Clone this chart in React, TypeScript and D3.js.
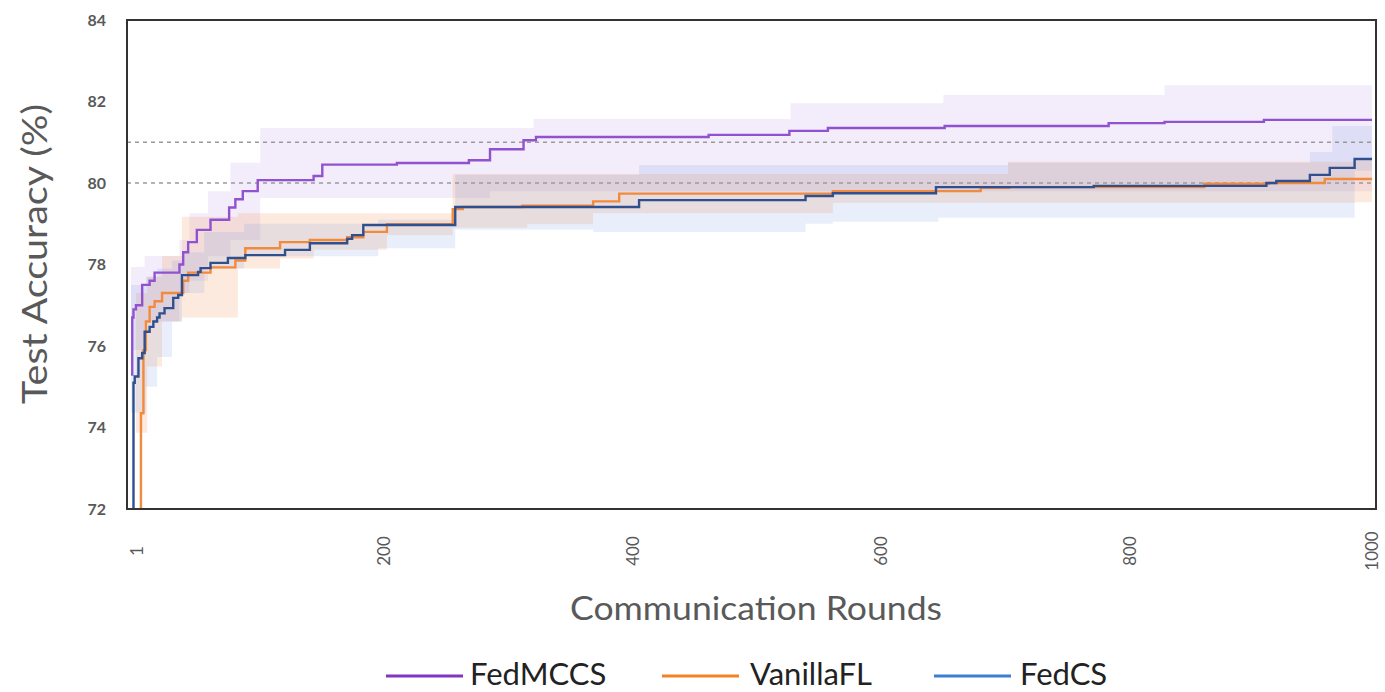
import React from "react";
import * as d3 from "d3";

// Step points: [round, accuracy]
const fedmccsLine: [number, number][] = [
  [1, 75.3], [2, 76.7], [3, 76.9], [5, 77.0], [10, 77.5], [16, 77.6], [20, 77.8], [40, 78.0],
  [43, 78.3], [47, 78.55], [54, 78.85], [65, 79.1], [80, 79.4], [85, 79.6], [91, 79.8],
  [103, 80.07], [148, 80.17], [155, 80.45], [215, 80.49], [273, 80.56], [290, 80.83],
  [317, 81.05], [327, 81.13], [466, 81.18], [531, 81.28], [562, 81.35], [656, 81.4],
  [788, 81.47], [833, 81.5], [913, 81.55], [1000, 81.55],
];
const vanillaLine: [number, number][] = [
  [1, 70.0], [9, 74.35], [11, 75.9], [13, 76.6], [16, 76.96], [20, 77.1], [26, 77.3],
  [43, 77.6], [47, 77.8], [65, 77.93], [85, 78.1], [93, 78.4], [121, 78.55], [145, 78.6],
  [175, 78.67], [188, 78.8], [207, 78.99], [260, 79.36], [268, 79.41], [316, 79.44],
  [373, 79.55], [394, 79.74], [566, 79.8], [685, 79.88], [708, 79.9], [865, 79.98],
  [917, 80.0], [962, 80.1], [1000, 80.1],
];
const fedcsLine: [number, number][] = [
  [1, 70.0], [3, 75.1], [4, 75.25], [7, 75.7], [10, 75.83], [12, 76.35], [16, 76.47],
  [19, 76.6], [22, 76.7], [24, 76.8], [28, 76.93], [35, 77.18], [39, 77.25], [42, 77.74],
  [55, 77.82], [57, 77.91], [65, 78.04], [79, 78.16], [93, 78.23], [125, 78.36],
  [145, 78.52], [175, 78.63], [179, 78.72], [188, 78.97], [262, 79.41], [410, 79.58],
  [544, 79.68], [566, 79.75], [649, 79.9], [776, 79.93], [915, 80.0], [923, 80.05],
  [950, 80.2], [966, 80.37], [986, 80.59], [1000, 80.59],
];

// Spread bands: [round, low, high]
const fedmccsBand: [number, number, number][] = [
  [1, 75.9, 77.94], [12, 76.6, 78.21], [40, 77.3, 78.6], [48, 77.6, 79.26], [63, 78.2, 79.8],
  [81, 78.6, 80.5], [105, 79.63, 81.35], [290, 79.8, 81.35], [325, 79.8, 81.57],
  [532, 79.8, 81.96], [655, 79.8, 82.16], [833, 79.8, 82.4], [1000, 79.8, 82.4],
];
const vanillaBand: [number, number, number][] = [
  [5, 73.87, 77.3], [14, 75.5, 77.7], [26, 76.6, 78.21], [42, 76.7, 79.17], [87, 77.9, 79.26],
  [121, 78.15, 79.26], [148, 78.36, 79.26], [207, 78.72, 79.26], [260, 78.9, 80.22],
  [320, 78.99, 80.22], [373, 79.26, 80.22], [566, 79.51, 80.22], [707, 79.51, 80.52],
  [986, 79.53, 80.55], [1000, 79.53, 80.55],
];
const fedcsBand: [number, number, number][] = [
  [1, 74.36, 77.5], [13, 75.0, 77.7], [22, 75.73, 77.9], [34, 76.6, 78.1], [42, 77.3, 78.3],
  [60, 77.9, 78.8], [92, 78.2, 79.0], [200, 78.4, 79.1], [262, 78.85, 80.2], [373, 78.8, 80.2],
  [410, 78.8, 80.44], [544, 79.0, 80.44], [566, 79.05, 80.44], [651, 79.15, 80.44],
  [707, 79.15, 80.5], [950, 79.15, 80.76], [968, 79.15, 81.4], [986, 80.3, 81.4],
  [1000, 80.3, 81.4],
];

const yTicks = [72, 74, 76, 78, 80, 82, 84];
const xTicks = [1, 200, 400, 600, 800, 1000];
const refLines = [80, 81];
const seriesNames = ["FedMCCS", "VanillaFL", "FedCS"];

const W = 1385;
const H = 692;
const frame = { left: 127, right: 1376, top: 20, bottom: 509 };
const FONT = "Lato, 'Open Sans', sans-serif";
const GRAY = "#595959";

export default function App() {
  const x = d3.scaleLinear().domain([1, 1000]).range([131, 1372]);
  const y = d3.scaleLinear().domain([72, 84]).range([frame.bottom, frame.top]);

  const line = d3
    .line<[number, number]>()
    .x((d) => x(d[0]))
    .y((d) => y(d[1]))
    .curve(d3.curveStepAfter);
  const area = d3
    .area<[number, number, number]>()
    .x((d) => x(d[0]))
    .y0((d) => y(d[1]))
    .y1((d) => y(d[2]))
    .curve(d3.curveStepAfter);

  const series = [
    { name: seriesNames[0], line: fedmccsLine, band: fedmccsBand, color: "#9152d0", legend: "#7f35c6", fill: "rgba(160,115,225,0.13)" },
    { name: seriesNames[1], line: vanillaLine, band: vanillaBand, color: "#f28a3e", legend: "#f28324", fill: "rgba(245,140,70,0.18)" },
    { name: seriesNames[2], line: fedcsLine, band: fedcsBand, color: "#2f4f8e", legend: "#3a7fd4", fill: "rgba(110,150,220,0.15)" },
  ];

  const legendItems = [
    { lx: 386, tx: 470 },
    { lx: 662, tx: 750 },
    { lx: 934, tx: 1020 },
  ];

  return (
    <svg width={W} height={H} style={{ position: "absolute", left: 0, top: 0, background: "#fff" }}>
      <defs>
        <clipPath id="plot-clip">
          <rect x={frame.left} y={frame.top} width={frame.right - frame.left} height={frame.bottom - frame.top} />
        </clipPath>
      </defs>

      <g clipPath="url(#plot-clip)">
        {series.map((s) => (
          <path key={s.name + "-band"} d={area(s.band) || ""} fill={s.fill} />
        ))}
        {refLines.map((v) => (
          <line key={v} x1={frame.left} x2={frame.right} y1={y(v)} y2={y(v)} stroke="#9a9a9a" strokeWidth={1.5} strokeDasharray="4 4" />
        ))}
        {series.map((s) => (
          <path key={s.name + "-line"} d={line(s.line) || ""} fill="none" stroke={s.color} strokeWidth={2.4} />
        ))}
      </g>

      <rect x={frame.left} y={frame.top} width={frame.right - frame.left} height={frame.bottom - frame.top} fill="none" stroke="#333" strokeWidth={2} />

      {yTicks.map((t) => (
        <text key={t} x={106} y={y(t)} dy="0.35em" textAnchor="end" fontFamily={FONT} fontWeight={700} fontSize={16} fill={GRAY}>
          {t}
        </text>
      ))}

      {xTicks.map((t) => (
        <text
          key={t}
          transform={`translate(${Math.min(x(t) + 6, 1372)},551) rotate(-90)`}
          textAnchor="middle"
          dy="0.35em"
          fontFamily={FONT}
          fontSize={17}
          fill={GRAY}
        >
          {t}
        </text>
      ))}

      <text
        transform="translate(35,254) rotate(-90)"
        textAnchor="middle"
        dy="0.35em"
        fontFamily={FONT}
        fontSize={34}
        fill={GRAY}
        textLength={300}
        lengthAdjust="spacingAndGlyphs"
      >
        Test Accuracy (%)
      </text>
      <text
        x={756}
        y={608}
        textAnchor="middle"
        dy="0.35em"
        fontFamily={FONT}
        fontSize={33}
        fill={GRAY}
        textLength={372}
        lengthAdjust="spacingAndGlyphs"
      >
        Communication Rounds
      </text>

      {series.map((s, i) => (
        <g key={s.name + "-legend"}>
          <line x1={legendItems[i].lx} x2={legendItems[i].lx + 77} y1={676} y2={676} stroke={s.legend} strokeWidth={3} />
          <text x={legendItems[i].tx} y={685} fontFamily={FONT} fontSize={31} fill="#222">
            {s.name}
          </text>
        </g>
      ))}
    </svg>
  );
}
